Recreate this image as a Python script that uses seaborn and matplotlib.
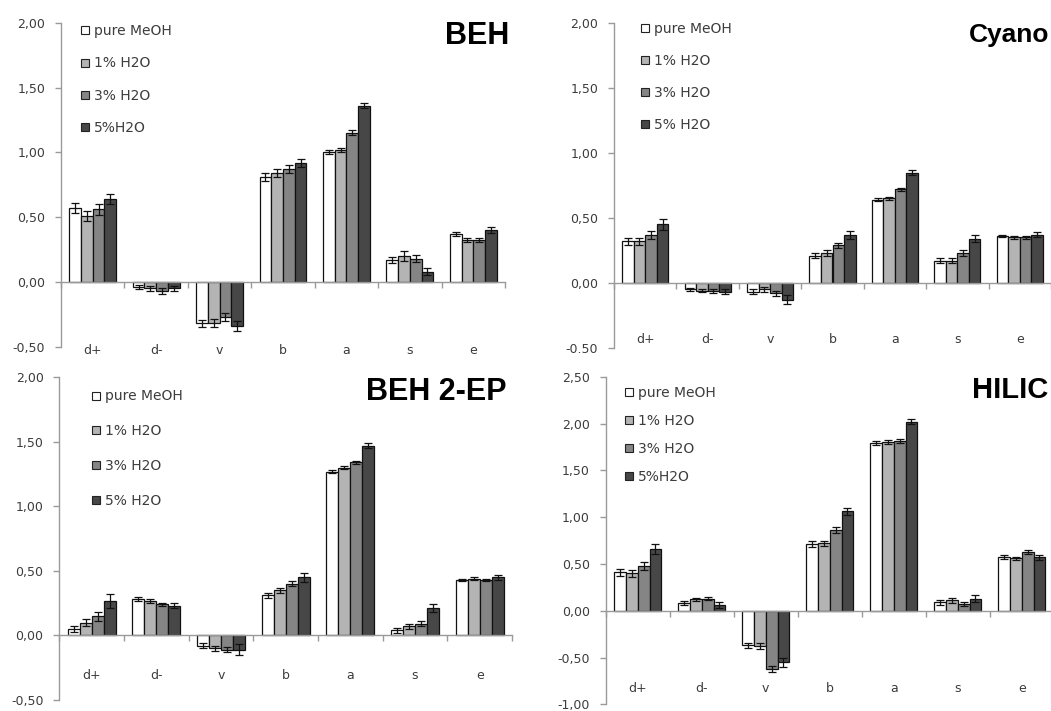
import numpy as np
import pandas as pd
import matplotlib
matplotlib.use("Agg")
import matplotlib.pyplot as plt
import seaborn as sns
from matplotlib.lines import Line2D
from matplotlib.ticker import FixedLocator

# ---------------- data ----------------
categories = ["d+", "d-", "v", "b", "a", "s", "e"]
solvents = ["pure MeOH", "1% H2O", "3% H2O", "5% H2O"]

# BEH
beh_pure = [0.57, -0.04, -0.32, 0.81, 1.00, 0.17, 0.37]
beh_1 = [0.51, -0.05, -0.32, 0.84, 1.02, 0.20, 0.32]
beh_3 = [0.56, -0.07, -0.27, 0.87, 1.15, 0.18, 0.32]
beh_5 = [0.64, -0.05, -0.34, 0.92, 1.36, 0.08, 0.40]
beh_pure_err = [0.04, 0.015, 0.025, 0.03, 0.015, 0.025, 0.015]
beh_1_err = [0.04, 0.02, 0.03, 0.03, 0.015, 0.035, 0.015]
beh_3_err = [0.04, 0.02, 0.03, 0.03, 0.02, 0.03, 0.015]
beh_5_err = [0.04, 0.02, 0.035, 0.03, 0.02, 0.03, 0.025]

# Cyano
cya_pure = [0.32, -0.05, -0.07, 0.21, 0.64, 0.17, 0.36]
cya_1 = [0.32, -0.06, -0.05, 0.23, 0.65, 0.17, 0.35]
cya_3 = [0.37, -0.06, -0.08, 0.29, 0.72, 0.23, 0.35]
cya_5 = [0.45, -0.07, -0.13, 0.37, 0.85, 0.34, 0.37]
cya_pure_err = [0.025, 0.01, 0.02, 0.02, 0.01, 0.02, 0.005]
cya_1_err = [0.025, 0.01, 0.02, 0.02, 0.01, 0.02, 0.01]
cya_3_err = [0.03, 0.015, 0.02, 0.02, 0.01, 0.02, 0.01]
cya_5_err = [0.04, 0.02, 0.035, 0.03, 0.02, 0.025, 0.02]

# BEH 2-EP
ep_pure = [0.05, 0.28, -0.08, 0.31, 1.27, 0.04, 0.43]
ep_1 = [0.10, 0.27, -0.10, 0.35, 1.30, 0.07, 0.44]
ep_3 = [0.15, 0.24, -0.11, 0.40, 1.34, 0.09, 0.43]
ep_5 = [0.27, 0.23, -0.11, 0.45, 1.47, 0.21, 0.45]
ep_pure_err = [0.025, 0.015, 0.02, 0.02, 0.01, 0.02, 0.01]
ep_1_err = [0.03, 0.015, 0.02, 0.02, 0.01, 0.02, 0.01]
ep_3_err = [0.035, 0.015, 0.02, 0.02, 0.01, 0.02, 0.01]
ep_5_err = [0.055, 0.02, 0.045, 0.035, 0.02, 0.03, 0.02]

# HILIC
hil_pure = [0.41, 0.08, -0.37, 0.71, 1.79, 0.09, 0.57]
hil_1 = [0.40, 0.12, -0.38, 0.72, 1.80, 0.11, 0.56]
hil_3 = [0.48, 0.13, -0.62, 0.86, 1.81, 0.07, 0.63]
hil_5 = [0.66, 0.06, -0.55, 1.06, 2.02, 0.13, 0.57]
hil_pure_err = [0.04, 0.02, 0.03, 0.03, 0.02, 0.025, 0.02]
hil_1_err = [0.04, 0.02, 0.03, 0.03, 0.02, 0.03, 0.015]
hil_3_err = [0.04, 0.02, 0.03, 0.03, 0.02, 0.025, 0.02]
hil_5_err = [0.05, 0.03, 0.05, 0.04, 0.03, 0.04, 0.025]

ticks_std = [-0.5, 0.0, 0.5, 1.0, 1.5, 2.0]
ticklabels_beh = ["-0,50", "0,00", "0,50", "1,00", "1,50", "2,00"]
ticklabels_cya = ["-0.50", "0,00", "0,50", "1,00", "1,50", "2,00"]
ticks_hil = [-1.0, -0.5, 0.0, 0.5, 1.0, 1.5, 2.0, 2.5]
ticklabels_hil = ["-1,00", "-0,50", "0,00", "0,50", "1,00", "1,50", "2,00", "2,50"]

legend_a = ["pure MeOH", "1% H2O", "3% H2O", "5%H2O"]
legend_b = ["pure MeOH", "1% H2O", "3% H2O", "5% H2O"]

# ---------------- style ----------------
sns.set_theme(style="ticks")
plt.rcParams['font.family'] = ['DejaVu Sans']

W, H = 1051, 711
colors = {"pure MeOH": "#ffffff", "1% H2O": "#b4b4b4", "3% H2O": "#858585", "5% H2O": "#474747"}
axis_gray = "#9a9a9a"
text_gray = "#3c3c3c"

fig = plt.figure(figsize=(W / 100, H / 100), dpi=100)


def px_rect(left, top, right, bottom):
    return [left / W, 1 - bottom / H, (right - left) / W, (bottom - top) / H]


panels = [
    dict(title="BEH", vals=[beh_pure, beh_1, beh_3, beh_5],
         errs=[beh_pure_err, beh_1_err, beh_3_err, beh_5_err],
         yticks=ticks_std, yticklabels=ticklabels_beh, ylim=(-0.5, 2.0),
         legend=legend_a, rect=px_rect(61, 22.7, 505, 346.7), xpad=45,
         leg_xy=(80.7, 24.3), leg_space=1.31, title_xy=(509, 44.3), title_size=22),
    dict(title="Cyano", vals=[cya_pure, cya_1, cya_3, cya_5],
         errs=[cya_pure_err, cya_1_err, cya_3_err, cya_5_err],
         yticks=ticks_std, yticklabels=ticklabels_cya, ylim=(-0.5, 2.0),
         legend=legend_b, rect=px_rect(614, 23.3, 1051, 347.7), xpad=36.4,
         leg_xy=(641, 22.0), leg_space=1.29, title_xy=(1049, 41.7), title_size=19),
    dict(title="BEH 2-EP", vals=[ep_pure, ep_1, ep_3, ep_5],
         errs=[ep_pure_err, ep_1_err, ep_3_err, ep_5_err],
         yticks=ticks_std, yticklabels=ticklabels_beh, ylim=(-0.5, 2.0),
         legend=legend_b, rect=px_rect(59.3, 377.3, 512, 700), xpad=24.2,
         leg_xy=(91.7, 389.4), leg_space=1.50, title_xy=(507, 400), title_size=22),
    dict(title="HILIC", vals=[hil_pure, hil_1, hil_3, hil_5],
         errs=[hil_pure_err, hil_1_err, hil_3_err, hil_5_err],
         yticks=ticks_hil, yticklabels=ticklabels_hil, ylim=(-1.0, 2.5),
         legend=legend_a, rect=px_rect(605.7, 376.7, 1053.7, 704.3), xpad=51.6,
         leg_xy=(625, 385.8), leg_space=1.02, title_xy=(1048, 398.3), title_size=21),
]

for p in panels:
    df = pd.DataFrame({
        "param": np.tile(categories, len(solvents)),
        "solvent": np.repeat(solvents, len(categories)),
        "value": np.concatenate(p["vals"]),
    })
    ax = fig.add_axes(p["rect"])
    sns.barplot(data=df, x="param", y="value", hue="solvent", order=categories,
                hue_order=solvents, palette=colors, edgecolor="#111111", linewidth=0.9,
                width=0.74, gap=0, errorbar=None, legend=False, ax=ax)
    for cont, vals, errs in zip(ax.containers, p["vals"], p["errs"]):
        xs = [b.get_x() + b.get_width() / 2 for b in cont]
        ax.errorbar(xs, vals, yerr=errs, fmt="none", ecolor="#111111",
                    elinewidth=0.9, capsize=3, capthick=0.9, zorder=4)

    ax.set_xlim(-0.5, len(categories) - 0.5)
    ax.set_ylim(*p["ylim"])
    ax.set_yticks(p["yticks"])
    ax.set_yticklabels(p["yticklabels"])
    ax.set_xticks(range(len(categories)))
    ax.set_xticklabels(categories)
    ax.xaxis.set_minor_locator(FixedLocator(np.arange(-0.5, len(categories), 1.0)))
    ax.set_xlabel("")
    ax.set_ylabel("")
    for s in ("top", "right"):
        ax.spines[s].set_visible(False)
    ax.spines["bottom"].set_position(("data", 0))
    for s in ("left", "bottom"):
        ax.spines[s].set_color(axis_gray)
        ax.spines[s].set_linewidth(1.0)
    ax.tick_params(axis="y", direction="out", length=4.3, width=1, color=axis_gray,
                   labelsize=9, labelcolor=text_gray, pad=7, left=True)
    ax.tick_params(axis="x", which="major", length=0, pad=p["xpad"],
                   labelsize=9, labelcolor=text_gray, bottom=True)
    ax.tick_params(axis="x", which="minor", direction="out", length=4, width=1,
                   color=axis_gray, bottom=True)
    ax.grid(False)
    ax.patch.set_alpha(0)

    handles = [Line2D([], [], linestyle="none", marker="s", markersize=5.6,
                      markerfacecolor=colors[s], markeredgecolor="#222222",
                      markeredgewidth=0.8) for s in solvents]
    fig.legend(handles, p["legend"], loc="upper left",
               bbox_to_anchor=(p["leg_xy"][0] / W, 1 - p["leg_xy"][1] / H),
               bbox_transform=fig.transFigure, frameon=False, fontsize=10,
               labelcolor=text_gray, handlelength=0.55, handleheight=0.7,
               handletextpad=0.4, labelspacing=p["leg_space"], borderpad=0,
               borderaxespad=0)

    fig.text(p["title_xy"][0] / W, 1 - p["title_xy"][1] / H, p["title"],
             ha="right", va="baseline", fontsize=p["title_size"], fontweight="bold",
             family=["Liberation Sans", "DejaVu Sans"], color="black")

fig.savefig("out.png", dpi=100)
